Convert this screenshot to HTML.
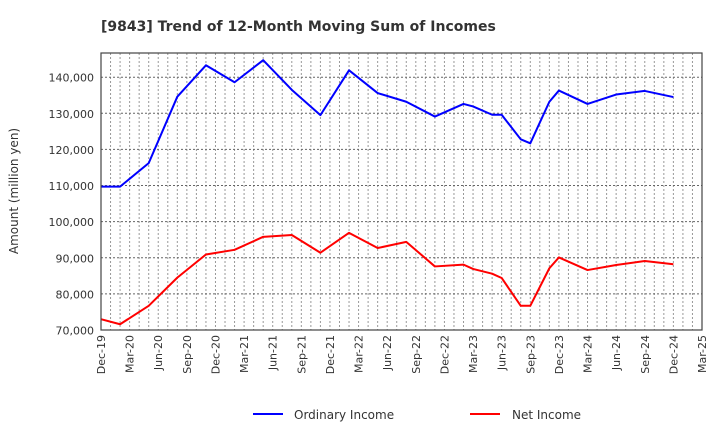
<!DOCTYPE html>
<html><head><meta charset="utf-8"><style>
body{margin:0;background:#fff;font-family:"DejaVu Sans","Liberation Sans",sans-serif}
svg text{font-family:"DejaVu Sans","Liberation Sans",sans-serif}
</style></head><body>
<svg id="chart" width="720" height="440" xmlns="http://www.w3.org/2000/svg">
<text x="101" y="31" font-size="14" font-weight="bold" fill="#333">[9843]  Trend of 12-Month Moving Sum of Incomes</text>
<text transform="translate(18,191) rotate(-90)" text-anchor="middle" font-size="12" fill="#333">Amount (million yen)</text>
<g id="grid"></g><g id="series"></g><g id="axes"></g>
<g>
<line x1="253" y1="414" x2="283" y2="414" stroke="#0000ff" stroke-width="2"/>
<text x="294" y="419" font-size="12" fill="#333">Ordinary Income</text>
<line x1="470" y1="414" x2="500" y2="414" stroke="#ff0000" stroke-width="2"/>
<text x="512" y="419" font-size="12" fill="#333">Net Income</text>
</g>
</svg>
<script>
const monthIdx=[0,2,5,8,11,14,17,20,23,26,29,32,35,38,39,41,42,44,45,47,48,51,54,57,60];
const ordinaryIncome=[109700,109700,116200,134600,143300,138600,144700,136500,129500,141900,135600,133200,129100,132600,131900,129600,129600,122800,121700,133200,136300,132600,135200,136200,134500];
const netIncome=[73000,71600,76700,84500,90900,92200,95800,96300,91400,96900,92700,94400,87600,88100,86900,85600,84400,76700,76700,87100,90100,86600,88000,89100,88200];
const yTicks=[70000,80000,90000,100000,110000,120000,130000,140000];
const xTickLabels=["Dec-19","Mar-20","Jun-20","Sep-20","Dec-20","Mar-21","Jun-21","Sep-21","Dec-21","Mar-22","Jun-22","Sep-22","Dec-22","Mar-23","Jun-23","Sep-23","Dec-23","Mar-24","Jun-24","Sep-24","Dec-24","Mar-25"];
const L=101,R=702,T=53,B=330,Y0=70000,Y1=146700,M=63;
const xs=m=>L+(R-L)*m/M, ys=v=>B-(B-T)*(v-Y0)/(Y1-Y0);
const NS="http://www.w3.org/2000/svg";
function mk(tag,attrs,parent){const e=document.createElementNS(NS,tag);for(const k in attrs)e.setAttribute(k,attrs[k]);parent.appendChild(e);return e;}
const grid=document.getElementById('grid'),axes=document.getElementById('axes'),series=document.getElementById('series');
for(let m=1;m<M;m++){const g=mk('line',{x1:xs(m),x2:xs(m),y1:T,y2:B,stroke:'#999','stroke-dasharray':'2,2','stroke-width':1},grid);

}
yTicks.forEach(v=>{const y=ys(v);
const g=mk('line',{x1:L,x2:R,y1:y,y2:y,stroke:'#666','stroke-dasharray':'2,2','stroke-width':1},grid);


const t=mk('text',{x:94,y:y+4.5,'text-anchor':'end','font-size':11,fill:'#333'},axes);t.textContent=v.toLocaleString('en-US');

});
xTickLabels.forEach((s,i)=>{const x=xs(i*3);
const t=mk('text',{transform:`translate(${x+4},${B+5}) rotate(-90)`,'text-anchor':'end','font-size':11,fill:'#333'},axes);t.textContent=s;

});
const fr=mk('rect',{x:L,y:T,width:R-L,height:B-T,fill:'none',stroke:'#444','stroke-width':1.2},axes);


function line(vals,color,name){const p=mk('polyline',{points:vals.map((v,i)=>xs(monthIdx[i])+','+ys(v)).join(' '),fill:'none',stroke:color,'stroke-width':2,'stroke-linejoin':'round'},series);

}
line(ordinaryIncome,'#0000ff','ordinary-income-line');
line(netIncome,'#ff0000','net-income-line');
</script>
</body></html>
